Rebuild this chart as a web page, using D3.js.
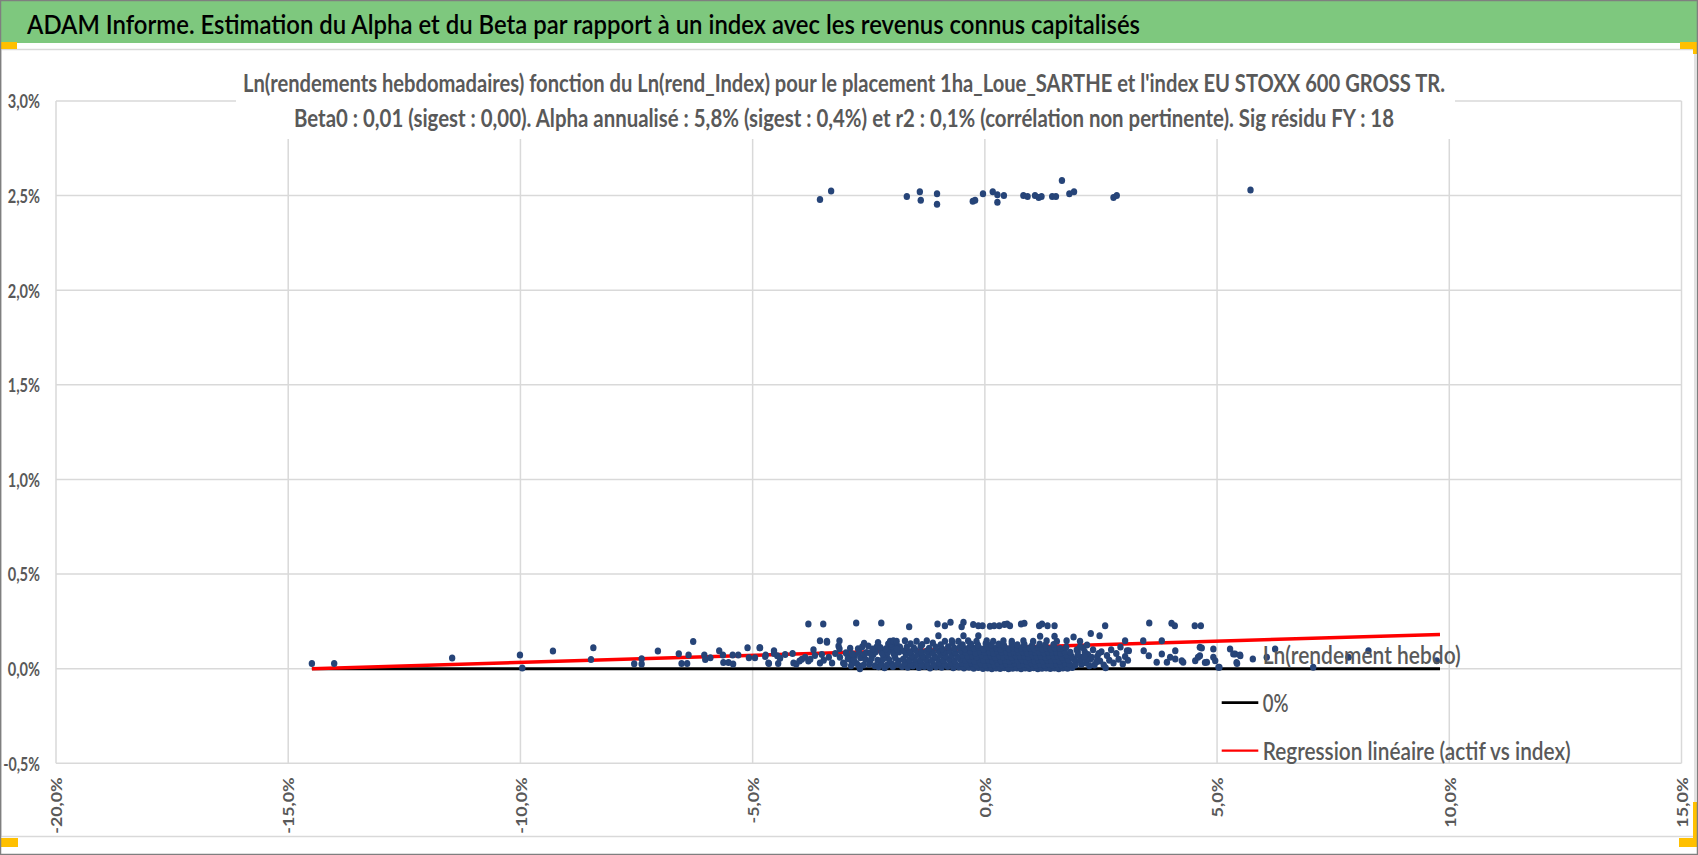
<!DOCTYPE html>
<html>
<head>
<meta charset="utf-8">
<script src="https://d3js.org/d3.v7.min.js"></script>
<style>
  body { margin: 0; background: #fff; }
  svg { display: block; font-family: Lato, "Open Sans", "Liberation Sans", sans-serif; }
</style>
</head>
<body>
<div id="chart"></div>
<script>
// Set H/W
const svgWidth = 1698;
const svgHeight = 855;

// plot box (pixel edges of the -20%..15% / -0.5%..3% grid)
const plot = { left: 56, right: 1681.5, top: 101, bottom: 763.3 };

// ---- data (all values in %) ----
const xTicks = [-20, -15, -10, -5, 0, 5, 10, 15];
const yTicks = [-0.5, 0, 0.5, 1, 1.5, 2, 2.5, 3];

const titleText = "ADAM Informe. Estimation du Alpha et du Beta par rapport à un index avec les revenus connus capitalisés";
const subtitleLines = [
  "Ln(rendements hebdomadaires) fonction du Ln(rend_Index) pour le placement 1ha_Loue_SARTHE et l'index EU STOXX 600 GROSS TR.",
  "Beta0 : 0,01 (sigest : 0,00). Alpha annualisé : 5,8% (sigest : 0,4%) et r2 : 0,1% (corrélation non pertinente). Sig résidu FY : 18"
];
const legendLabels = ["Ln(rendement hebdo)", "0%", "Regression linéaire (actif vs index)"];

// weeks with a ~2.5% return
const highPoints = [
  [-3.55, 2.48], [-3.31, 2.525], [-1.68, 2.495], [-1.40, 2.52], [-1.38, 2.475], [-1.03, 2.51], [-1.03, 2.455],
  [-0.26, 2.47], [-0.21, 2.475], [-0.04, 2.51], [0.17, 2.52], [0.27, 2.505], [0.27, 2.465], [0.41, 2.50],
  [0.83, 2.50], [0.92, 2.495], [1.08, 2.50], [1.16, 2.49], [1.22, 2.495], [1.45, 2.495], [1.53, 2.495],
  [1.66, 2.58], [1.82, 2.51], [1.92, 2.52], [2.77, 2.49], [2.84, 2.50], [5.72, 2.53]
];

// upper rows of the low cloud (0.14% .. 0.25%)
const upperPoints = [
  [-3.80, 0.236], [-3.48, 0.236], [-2.77, 0.241], [-2.23, 0.241], [-1.63, 0.222], [-1.02, 0.236], [-0.86, 0.227],
  [-0.74, 0.245], [-0.50, 0.222], [-0.46, 0.245], [-0.25, 0.233], [-0.14, 0.227], [-0.05, 0.227], [0.11, 0.224],
  [0.20, 0.227], [0.31, 0.227], [0.42, 0.233], [0.48, 0.236], [0.54, 0.227], [0.78, 0.236], [0.85, 0.240],
  [1.17, 0.227], [1.23, 0.236], [1.35, 0.227], [1.50, 0.227], [2.59, 0.227], [3.54, 0.241], [4.02, 0.240],
  [4.09, 0.227], [4.52, 0.227], [4.65, 0.227],
  [-1.00, 0.174], [-0.46, 0.174], [-0.14, 0.174], [1.19, 0.172], [1.50, 0.172], [1.91, 0.168], [2.28, 0.186], [2.47, 0.174],
  [-3.55, 0.148], [-3.40, 0.145], [-3.13, 0.148], [-2.04, 0.145], [-1.97, 0.148], [-1.90, 0.145], [-1.72, 0.148],
  [-1.47, 0.145], [-1.25, 0.148], [-0.86, 0.145], [-0.71, 0.148], [-0.57, 0.145], [-0.36, 0.148], [-0.18, 0.145],
  [0.04, 0.148], [0.18, 0.145], [0.40, 0.148], [0.58, 0.145], [0.83, 0.148], [1.04, 0.145], [1.33, 0.148],
  [1.55, 0.145], [1.76, 0.148], [2.05, 0.145], [3.02, 0.148], [3.41, 0.148], [3.81, 0.148]
];

// left tail and sparse points of the low cloud
const tailPoints = [
  [-14.49, 0.028], [-14.01, 0.028], [-11.47, 0.057], [-10.01, 0.072], [-9.96, 0.004], [-9.30, 0.094],
  [-8.43, 0.11], [-8.48, 0.048], [-7.55, 0.026], [-7.39, 0.053], [-7.39, 0.025], [-7.04, 0.094],
  [-6.59, 0.079], [-6.53, 0.028], [-6.41, 0.028], [-6.38, 0.072], [-6.28, 0.144], [-6.04, 0.072],
  [-6.02, 0.048], [-5.91, 0.058], [-5.72, 0.095], [-5.64, 0.072], [-5.63, 0.033], [-5.52, 0.033],
  [-5.43, 0.072], [-5.42, 0.025], [-5.31, 0.072], [-5.11, 0.11], [-5.08, 0.058], [-4.95, 0.058],
  [-4.85, 0.11], [-4.72, 0.072], [-4.65, 0.028], [-4.54, 0.095], [-4.47, 0.069], [-4.45, 0.028],
  [-4.84, 0.11], [-4.73, 0.065], [-4.66, 0.03], [-4.54, 0.08], [-4.41, 0.055], [-4.30, 0.075],
  [-4.14, 0.08], [-4.12, 0.03], [-4.06, 0.025], [-3.99, 0.04], [-3.94, 0.05], [-3.87, 0.06],
  [-3.80, 0.04], [-3.76, 0.05], [-3.69, 0.10], [-3.66, 0.07], [-3.55, 0.03], [-3.51, 0.075],
  [-3.47, 0.045], [-3.40, 0.14], [-3.36, 0.06], [-3.29, 0.03], [-3.22, 0.08], [-3.15, 0.12],
  [-3.13, 0.105], [-3.12, 0.06], [-3.05, 0.03], [-2.98, 0.08], [-2.92, 0.06], [-2.87, 0.04],
  [-2.80, 0.07], [-2.73, 0.105], [-2.71, 0.015], [-2.69, 0.0], [-2.62, 0.06], [-2.55, 0.085],
  [-2.51, 0.12], [-2.47, 0.04], [-2.40, 0.075], [-2.33, 0.115], [-2.29, 0.01], [-2.26, 0.04],
  [-2.22, 0.085], [-2.16, 0.005], [-2.11, 0.06], [-2.08, 0.13], [-2.04, 0.10], [-2.0, 0.025],
  [-1.97, 0.095], [-1.94, 0.07], [-1.90, 0.125], [-1.86, 0.04], [-1.83, 0.115],
  [1.95, 0.02], [2.0, 0.09], [2.06, 0.06], [2.12, 0.11], [2.18, 0.03], [2.22, 0.075], [2.27, 0.05],
  [2.33, 0.10], [2.36, 0.02], [2.42, 0.065], [2.48, 0.04], [2.51, 0.09], [2.56, 0.02], [2.60, 0.005],
  [2.63, 0.07], [2.68, 0.045], [2.72, 0.10], [2.77, 0.03], [2.83, 0.08], [2.88, 0.05], [2.92, 0.115],
  [2.97, 0.025], [3.02, 0.065], [3.08, 0.045], [3.10, 0.095],
  [3.06, 0.095], [3.42, 0.095], [3.53, 0.069], [3.70, 0.034], [3.81, 0.078], [3.92, 0.034],
  [3.99, 0.060], [4.10, 0.095], [4.10, 0.051], [4.27, 0.034], [4.53, 0.042], [4.63, 0.113],
  [4.63, 0.069], [4.78, 0.034], [4.92, 0.104], [4.92, 0.060], [5.03, 0.007], [5.28, 0.104],
  [5.39, 0.078], [5.43, 0.028], [5.50, 0.069], [5.77, 0.051], [4.24, 0.042], [4.59, 0.06],
  [4.67, 0.109], [4.74, 0.033], [4.96, 0.042], [5.05, 0.007], [5.35, 0.078], [5.42, 0.033],
  [6.07, 0.06], [6.25, 0.104], [7.07, 0.007], [7.83, 0.06], [8.26, 0.095], [9.73, 0.042]
];

// shoulders of the core, -3% .. -1.8% and 1.9% .. 2.6%
const shoulderPoints = [
  [-3.02, 0.022], [-2.88, 0.016], [-2.76, 0.027], [-2.61, 0.019], [-2.49, 0.024], [-2.37, 0.015], [-2.23, 0.028],
  [-2.11, 0.018], [-1.98, 0.012], [-1.88, 0.023],
  [-2.95, 0.052], [-2.82, 0.046], [-2.68, 0.058], [-2.57, 0.048], [-2.44, 0.055], [-2.31, 0.045], [-2.19, 0.051],
  [-2.06, 0.047], [-1.93, 0.056],
  [-2.99, 0.084], [-2.85, 0.078], [-2.71, 0.088], [-2.59, 0.076], [-2.46, 0.082], [-2.35, 0.089], [-2.20, 0.077],
  [-2.09, 0.086], [-1.96, 0.079], [-1.85, 0.088],
  [-2.90, 0.108], [-2.64, 0.116], [-2.42, 0.104], [-2.25, 0.112], [-2.13, 0.106], [-2.01, 0.117], [-1.89, 0.103],
  [-2.60, 0.134], [-2.30, 0.138], [-2.02, 0.132],
  [1.98, 0.10], [2.05, 0.115], [2.15, 0.09], [2.20, 0.125], [2.25, 0.015], [2.30, 0.06], [2.40, 0.035], [2.45, 0.08]
];

// dense core of the cloud
const bandPoints = [
  [-1.78, 0.012], [-1.66, 0.008], [-1.55, 0.014], [-1.42, 0.006], [-1.30, 0.011], [-1.18, 0.004], [-1.05, 0.010],
  [-0.93, 0.007], [-0.80, 0.012], [-0.68, 0.005], [-0.56, 0.009], [-0.45, 0.003], [-0.34, 0.008], [-0.24, 0.002],
  [-0.14, 0.006], [-0.04, 0.001], [0.06, 0.004], [0.15, 0.0], [0.24, 0.003], [0.33, 0.001], [0.42, 0.005],
  [0.51, 0.0], [0.60, 0.002], [0.69, 0.004], [0.78, 0.0], [0.87, 0.003], [0.96, 0.001], [1.05, 0.005],
  [1.14, 0.0], [1.23, 0.002], [1.32, 0.004], [1.41, 0.001], [1.50, 0.003], [1.59, 0.0], [1.68, 0.004],
  [1.78, 0.002], [1.88, 0.006],
  [-1.72, 0.030], [-1.60, 0.026], [-1.48, 0.033], [-1.36, 0.024], [-1.24, 0.029], [-1.11, 0.022], [-0.99, 0.031],
  [-0.87, 0.025], [-0.74, 0.028], [-0.62, 0.021], [-0.50, 0.027], [-0.39, 0.023], [-0.29, 0.030], [-0.19, 0.020],
  [-0.09, 0.026], [0.01, 0.019], [0.11, 0.024], [0.20, 0.021], [0.29, 0.027], [0.38, 0.018], [0.47, 0.025],
  [0.56, 0.022], [0.65, 0.028], [0.74, 0.019], [0.83, 0.024], [0.92, 0.021], [1.01, 0.027], [1.10, 0.018],
  [1.19, 0.023], [1.28, 0.020], [1.37, 0.026], [1.46, 0.019], [1.55, 0.024], [1.64, 0.021], [1.73, 0.027],
  [1.83, 0.022], [1.95, 0.028], [2.08, 0.024],
  [-1.76, 0.050], [-1.63, 0.046], [-1.51, 0.053], [-1.39, 0.044], [-1.27, 0.049], [-1.14, 0.043], [-1.02, 0.052],
  [-0.90, 0.045], [-0.77, 0.048], [-0.65, 0.042], [-0.53, 0.050], [-0.42, 0.044], [-0.32, 0.047], [-0.22, 0.041],
  [-0.12, 0.049], [-0.02, 0.043], [0.08, 0.046], [0.17, 0.040], [0.26, 0.048], [0.35, 0.042], [0.44, 0.045],
  [0.53, 0.041], [0.62, 0.047], [0.71, 0.043], [0.80, 0.046], [0.89, 0.040], [0.98, 0.048], [1.07, 0.042],
  [1.16, 0.045], [1.25, 0.041], [1.34, 0.047], [1.43, 0.043], [1.52, 0.046], [1.61, 0.040], [1.70, 0.048],
  [1.80, 0.044], [1.92, 0.050], [2.05, 0.045], [2.18, 0.049],
  [-1.70, 0.072], [-1.57, 0.068], [-1.45, 0.075], [-1.33, 0.066], [-1.21, 0.071], [-1.08, 0.064], [-0.96, 0.073],
  [-0.84, 0.067], [-0.71, 0.070], [-0.59, 0.063], [-0.48, 0.071], [-0.37, 0.065], [-0.27, 0.069], [-0.17, 0.062],
  [-0.07, 0.070], [0.03, 0.064], [0.13, 0.068], [0.22, 0.061], [0.31, 0.069], [0.40, 0.063], [0.49, 0.067],
  [0.58, 0.062], [0.67, 0.068], [0.76, 0.064], [0.85, 0.067], [0.94, 0.061], [1.03, 0.069], [1.12, 0.063],
  [1.21, 0.066], [1.30, 0.062], [1.39, 0.068], [1.48, 0.064], [1.57, 0.067], [1.66, 0.061], [1.76, 0.070],
  [1.87, 0.065], [2.00, 0.071], [2.14, 0.066],
  [-1.74, 0.094], [-1.61, 0.090], [-1.49, 0.097], [-1.37, 0.088], [-1.25, 0.093], [-1.12, 0.086], [-1.00, 0.095],
  [-0.88, 0.089], [-0.76, 0.092], [-0.64, 0.085], [-0.52, 0.093], [-0.41, 0.087], [-0.30, 0.091], [-0.20, 0.084],
  [-0.10, 0.092], [0.00, 0.086], [0.10, 0.090], [0.19, 0.083], [0.28, 0.091], [0.37, 0.085], [0.46, 0.089],
  [0.55, 0.084], [0.64, 0.090], [0.73, 0.086], [0.82, 0.089], [0.91, 0.083], [1.00, 0.091], [1.09, 0.085],
  [1.18, 0.088], [1.27, 0.084], [1.36, 0.090], [1.45, 0.086], [1.54, 0.089], [1.63, 0.083], [1.72, 0.091],
  [1.84, 0.087],
  [-1.68, 0.115], [-1.53, 0.110], [-1.38, 0.118], [-1.20, 0.108], [-1.06, 0.114], [-0.92, 0.106], [-0.79, 0.116],
  [-0.66, 0.109], [-0.54, 0.113], [-0.43, 0.105], [-0.33, 0.114], [-0.23, 0.108], [-0.13, 0.112], [-0.03, 0.104],
  [0.07, 0.113], [0.16, 0.107], [0.25, 0.111], [0.34, 0.104], [0.43, 0.112], [0.52, 0.106], [0.61, 0.110],
  [0.70, 0.105], [0.79, 0.111], [0.88, 0.107], [0.97, 0.110], [1.06, 0.104], [1.15, 0.112], [1.24, 0.106],
  [1.33, 0.109], [1.42, 0.105], [1.51, 0.111], [1.62, 0.107], [1.75, 0.113],
  [-1.60, 0.132], [-1.35, 0.128], [-1.12, 0.136], [-0.95, 0.126], [-0.70, 0.134], [-0.48, 0.127], [-0.30, 0.131],
  [-0.15, 0.125], [0.02, 0.133], [0.14, 0.127], [0.30, 0.130], [0.41, 0.124], [0.58, 0.132], [0.70, 0.126],
  [0.85, 0.129], [1.02, 0.124], [1.18, 0.131], [1.30, 0.125], [1.48, 0.128]
];

const zeroLine = [[-14.49, 0], [9.8, 0]];
const regressionLine = [[-14.49, 0], [9.8, 0.181]];

// ---- helpers ----
const pct = d => d.toFixed(1).replace(".", ",") + "%";

// rough glyph widths of the bold tick font, used to pin label lengths
function labelLength(str, w) {
  let total = 0;
  for (const ch of str) {
    if (ch >= "0" && ch <= "9") total += w.digit;
    else if (ch === ",") total += w.comma;
    else if (ch === "-") total += w.minus;
    else total += w.percent;
  }
  return total;
}
const yGlyphs = { digit: 7.6, comma: 3.6, minus: 4.5, percent: 13.5 };
const xGlyphs = { digit: 10.3, comma: 4.5, minus: 6, percent: 15 };

// ---- svg ----
const svg = d3.select("#chart")
  .append("svg")
  .attr("width", svgWidth)
  .attr("height", svgHeight);

svg.append("rect")
  .attr("width", svgWidth)
  .attr("height", svgHeight)
  .attr("fill", "#ffffff");

// header band
svg.append("rect")
  .attr("x", 0).attr("y", 0)
  .attr("width", svgWidth).attr("height", 43)
  .attr("fill", "#7ec87e");

svg.append("text")
  .attr("x", 27)
  .attr("y", 34)
  .attr("textLength", 1113)
  .attr("lengthAdjust", "spacingAndGlyphs")
  .style("font-size", "26px")
  .style("font-weight", 600)
  .attr("fill", "#000000")
  .text(titleText);

// chart area frame
svg.append("rect")
  .attr("x", 1).attr("y", 49.5)
  .attr("width", 1694).attr("height", 787)
  .attr("fill", "none")
  .attr("stroke", "#d9d9d9")
  .attr("stroke-width", 1.5);

// scales
const xScale = d3.scaleLinear().domain([-20, 15]).range([plot.left, plot.right]);
const yScale = d3.scaleLinear().domain([-0.5, 3]).range([plot.bottom, plot.top]);

// gridlines
const grid = svg.append("g").attr("stroke", "#d9d9d9").attr("stroke-width", 1.5);
grid.selectAll(".gx")
  .data(xTicks)
  .enter()
  .append("line")
  .attr("x1", d => xScale(d)).attr("x2", d => xScale(d))
  .attr("y1", plot.top).attr("y2", plot.bottom);
grid.selectAll(".gy")
  .data(yTicks)
  .enter()
  .append("line")
  .attr("x1", plot.left).attr("x2", plot.right)
  .attr("y1", d => yScale(d)).attr("y2", d => yScale(d));

// y axis labels
const yAxis = svg.append("g")
  .attr("transform", `translate(${plot.left}, 0)`)
  .call(d3.axisLeft(yScale).tickValues(yTicks).tickFormat(pct).tickSize(0).tickPadding(16));
yAxis.select(".domain").remove();
yAxis.selectAll("text")
  .attr("dy", "0.38em")
  .attr("textLength", d => labelLength(pct(d), yGlyphs))
  .attr("lengthAdjust", "spacingAndGlyphs")
  .style("font-family", "Lato, 'Open Sans', sans-serif")
  .style("font-size", "18px")
  .style("font-weight", "bold")
  .attr("fill", "#595959");

// x axis labels (rotated)
const xAxis = svg.append("g")
  .attr("transform", `translate(0, ${plot.bottom})`)
  .call(d3.axisBottom(xScale).tickValues(xTicks).tickFormat(pct).tickSize(0));
xAxis.select(".domain").remove();
xAxis.selectAll("text")
  .attr("transform", "rotate(-90)")
  .attr("x", -14)
  .attr("y", 0)
  .attr("dy", "0.36em")
  .style("text-anchor", "end")
  .attr("textLength", d => labelLength(pct(d), xGlyphs))
  .attr("lengthAdjust", "spacingAndGlyphs")
  .style("font-family", "Lato, 'Open Sans', sans-serif")
  .style("font-size", "16px")
  .style("font-weight", "bold")
  .attr("fill", "#595959");

// chart title box (covers the grid like the Excel title does)
svg.append("rect")
  .attr("x", 236).attr("y", 55)
  .attr("width", 1219).attr("height", 84)
  .attr("fill", "#ffffff");

const subLengths = [1202, 1100];
const subBaselines = [92, 127];
svg.selectAll(".subtitle")
  .data(subtitleLines)
  .enter()
  .append("text")
  .attr("class", "subtitle")
  .attr("x", 844)
  .attr("y", (d, i) => subBaselines[i])
  .attr("text-anchor", "middle")
  .attr("textLength", (d, i) => subLengths[i])
  .attr("lengthAdjust", "spacingAndGlyphs")
  .style("font-size", "24px")
  .style("font-weight", "bold")
  .attr("fill", "#595959")
  .text(d => d);

// lines
const line = d3.line().x(d => xScale(d[0])).y(d => yScale(d[1]));
svg.append("path")
  .datum(zeroLine)
  .attr("d", line)
  .attr("fill", "none")
  .attr("stroke", "#000000")
  .attr("stroke-width", 3);
svg.append("path")
  .datum(regressionLine)
  .attr("d", line)
  .attr("fill", "none")
  .attr("stroke", "#ff0000")
  .attr("stroke-width", 3.5);

// points
const allPoints = tailPoints.concat(shoulderPoints, bandPoints, upperPoints, highPoints);
svg.append("g")
  .selectAll("ellipse")
  .data(allPoints)
  .enter()
  .append("ellipse")
  .attr("cx", d => xScale(d[0]))
  .attr("cy", d => yScale(d[1]))
  .attr("rx", 3.2)
  .attr("ry", 3.5)
  .attr("fill", "#264478");

// legend
const legendBaselines = [664, 712, 760];
const legendLengths = [198, 25.7, 308];
const legend = svg.append("g");
legend.append("ellipse")
  .attr("cx", 1240).attr("cy", 655)
  .attr("rx", 3.1).attr("ry", 3.4)
  .attr("fill", "#264478");
legend.append("line")
  .attr("x1", 1221.7).attr("x2", 1258.3)
  .attr("y1", 702.7).attr("y2", 702.7)
  .attr("stroke", "#000000").attr("stroke-width", 2.7);
legend.append("line")
  .attr("x1", 1221.7).attr("x2", 1258.3)
  .attr("y1", 750.7).attr("y2", 750.7)
  .attr("stroke", "#ff0000").attr("stroke-width", 2.2);
legend.selectAll("text")
  .data(legendLabels)
  .enter()
  .append("text")
  .attr("x", 1262.7)
  .attr("y", (d, i) => legendBaselines[i])
  .attr("textLength", (d, i) => legendLengths[i])
  .attr("lengthAdjust", "spacingAndGlyphs")
  .style("font-size", "25px")
  .style("font-weight", 600)
  .attr("fill", "#595959")
  .text(d => d);

// selection handles
const handles = [
  [0, 42, 17, 7], [1680, 42, 17, 7], [1693, 42, 4, 12],
  [0, 838, 18, 9], [1679, 838, 18, 9], [1693, 802, 4, 45]
];
svg.append("g")
  .selectAll("rect")
  .data(handles)
  .enter()
  .append("rect")
  .attr("x", d => d[0]).attr("y", d => d[1])
  .attr("width", d => d[2]).attr("height", d => d[3])
  .attr("fill", "#ffc000");

// outer border
svg.append("rect")
  .attr("x", 0.5).attr("y", 0.5)
  .attr("width", svgWidth - 1).attr("height", svgHeight - 1)
  .attr("fill", "none")
  .attr("stroke", "#7f7f7f")
  .attr("stroke-width", 1.5);
</script>
</body>
</html>
